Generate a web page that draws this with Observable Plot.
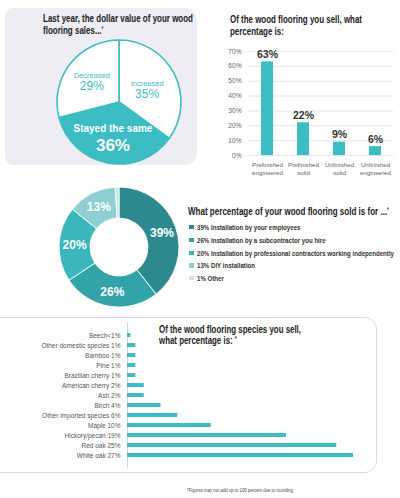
<!DOCTYPE html>
<html><head><meta charset="utf-8">
<script src="https://cdn.jsdelivr.net/npm/d3@7"></script>
<script src="https://cdn.jsdelivr.net/npm/@observablehq/plot@0.6"></script>
<style>
body{margin:0;background:#fff;}
#root{position:relative;width:400px;height:498px;overflow:hidden;font-family:"Liberation Sans",Arial,sans-serif;}
</style></head><body><div id="root"></div>
<script>
// ---------- DATA ----------
const salesLabels = ["Increased", "Stayed the same", "Decreased"];
const salesValues = [35, 36, 29];

const typeLabels = ["Prefinished\nengineered", "Prefinished\nsolid", "Unfinished\nsolid", "Unfinished\nengineered"];
const typeValues = [63, 22, 9, 6];
const typeTicks = [0, 10, 20, 30, 40, 50, 60, 70];

const installLabels = ["Installation by your employees", "Installation by a subcontractor you hire", "Installation by professional contractors working independently", "DIY installation", "Other"];
const installValues = [39, 26, 20, 13, 1];
const installColors = ["#2c8a8f", "#32a3a8", "#3ab6bc", "#8dcfd2", "#c4e6e8"];

const speciesLabels = ["Beech<1%", "Other domestic species 1%", "Bamboo 1%", "Pine 1%", "Brazilian cherry 1%", "American cherry 2%", "Ash 2%", "Birch 4%", "Other imported species 6%", "Maple 10%", "Hickory/pecan 19%", "Red oak 25%", "White oak 27%"];
const speciesValues = [0.4, 1, 1, 1, 1, 2, 2, 4, 6, 10, 19, 25, 27];

// ---------- STYLE ----------
const TEAL = "#3cbcc3";
const NARROW = '"Liberation Sans Narrow","Liberation Sans",Arial,sans-serif';
const SANS = '"Liberation Sans",Arial,sans-serif';
const root = document.getElementById("root");

function place(el, left, top) {
  el.style.position = "absolute"; el.style.left = left + "px"; el.style.top = top + "px";
  root.appendChild(el); return el;
}
function box(left, top, w, h, css) {
  const d = document.createElement("div");
  Object.assign(d.style, {width: w + "px", height: h + "px", boxSizing: "border-box"}, css);
  return place(d, left, top);
}
function textBlock(html, {left, top, size, lh, width, scale, weight = "bold", family = NARROW, color = "#222", sy = 1}) {
  const d = document.createElement("div");
  d.innerHTML = html;
  Object.assign(d.style, {fontSize: size + "px", lineHeight: lh + "px", fontFamily: family, fontWeight: weight, color, whiteSpace: "nowrap", transformOrigin: "0 0"});
  place(d, left, top);
  const w = d.getBoundingClientRect().width;
  const s = scale ?? (width ? width / w : 1);
  d.style.transform = `scale(${s}, ${sy})`;
  return s;
}
const star = '<span style="font-size:60%;position:relative;top:-0.45em">*</span>';

// ---------- PANELS ----------
box(5, 8, 192, 157, {background: "#eeedf4", borderRadius: "8px 12px 12px 8px"});
box(-20, 317, 397, 156, {border: "1px solid #d9d8ea", borderRadius: "12px"});

// ---------- PIE (sales) ----------
const R1 = 62;
const salesData = d3.pie().sort(null)(salesValues).map((a, i) => ({
  label: salesLabels[i], value: salesValues[i], start: a.startAngle, end: a.endAngle, mid: (a.startAngle + a.endAngle) / 2
}));
const salesLabelR = [31, 35, 35];
salesData.forEach((d, i) => { d.lx = salesLabelR[i] * Math.sin(d.mid); d.ly = salesLabelR[i] * Math.cos(d.mid); });
const smallSales = salesData.filter(d => d.label !== "Stayed the same");
const bigSales = salesData.filter(d => d.label === "Stayed the same");

const pie1 = Plot.plot({
  width: 140, height: 140, margin: 0,
  x: {domain: [-70, 70], axis: null}, y: {domain: [-70, 70], axis: null},
  style: {background: "transparent", overflow: "visible"},
  marks: [
    (index, scales) => {
      const cx = scales.x(0), cy = scales.y(0), k = scales.x(1) - scales.x(0);
      const arc = d3.arc().innerRadius(0).outerRadius(R1 * k).startAngle(d => d.start).endAngle(d => d.end);
      const g = d3.create("svg:g").attr("transform", `translate(${cx},${cy})`);
      g.selectAll("path").data(salesData).join("path").attr("d", arc)
        .attr("fill", d => d.label === "Stayed the same" ? TEAL : "#fff")
        .attr("stroke", TEAL).attr("stroke-width", 1.6).attr("stroke-linejoin", "round");
      return g.node();
    },
    Plot.text(smallSales, {x: "lx", y: "ly", text: "label", dy: -5.3, fontSize: 7.5, fill: TEAL, fontFamily: NARROW}),
    Plot.text(smallSales, {x: "lx", y: "ly", text: d => d.value + "%", dy: 5.5, fontSize: 12, fill: TEAL, fontFamily: NARROW}),
    Plot.text(bigSales, {x: "lx", y: "ly", text: "label", dy: -8, fontSize: 10, fill: "#fff", fontWeight: "bold", fontFamily: NARROW}),
    Plot.text(bigSales, {x: "lx", y: "ly", text: d => d.value + "%", dy: 8.5, fontSize: 17, fill: "#fff", fontWeight: "bold", fontFamily: NARROW})
  ]
});
place(pie1, 119 - 70, 102 - 70);

// ---------- BAR (type) ----------
const typeData = typeLabels.map((k, i) => ({k, v: typeValues[i]}));
const bar1 = Plot.plot({
  width: 200, height: 185, marginLeft: 48, marginRight: 7, marginTop: 51, marginBottom: 30,
  style: {background: "transparent", overflow: "visible", fontFamily: SANS},
  x: {domain: typeLabels, paddingInner: 0.67, paddingOuter: 0.335, axis: null},
  y: {domain: [0, 70], axis: null},
  marks: [
    Plot.gridY(typeTicks, {stroke: "#e3e3ea", strokeOpacity: 1}),
    Plot.barY(typeData, {x: "k", y: "v", fill: TEAL}),
    Plot.text(typeData, {x: "k", y: "v", text: d => d.v + "%", dy: -4, lineAnchor: "bottom", fontWeight: "bold", fontSize: 10.5, fill: "#333"}),
    Plot.axisY(typeTicks, {tickSize: 0, tickPadding: 7, tickFormat: d => d + "%", fontSize: 6.6, color: "#666", label: null}),
    Plot.axisX({tickSize: 0, tickPadding: 5, fontSize: 6.2, color: "#666", lineHeight: 1.4, label: null})
  ]
});
place(bar1, 200, 0);

// ---------- DONUT (install) ----------
const R2 = 60, R2in = 29, R2lab = 45;
const installData = d3.pie().sort(null)(installValues).map((a, i) => ({
  label: installLabels[i], value: installValues[i], color: installColors[i],
  start: a.startAngle, end: a.endAngle, mid: (a.startAngle + a.endAngle) / 2
}));
installData.forEach(d => { d.lx = R2lab * Math.sin(d.mid); d.ly = R2lab * Math.cos(d.mid); });
const donut = Plot.plot({
  width: 130, height: 130, margin: 0,
  x: {domain: [-65, 65], axis: null}, y: {domain: [-65, 65], axis: null},
  style: {background: "transparent", overflow: "visible"},
  marks: [
    (index, scales) => {
      const cx = scales.x(0), cy = scales.y(0), k = scales.x(1) - scales.x(0);
      const arc = d3.arc().innerRadius(R2in * k).outerRadius(R2 * k).startAngle(d => d.start).endAngle(d => d.end);
      const g = d3.create("svg:g").attr("transform", `translate(${cx},${cy})`);
      g.selectAll("path").data(installData).join("path").attr("d", arc)
        .attr("fill", d => d.color).attr("stroke", "#fff").attr("stroke-width", 0.9);
      return g.node();
    },
    Plot.text(installData.filter(d => d.value >= 5), {x: "lx", y: "ly", text: d => d.value + "%", fontSize: 12, fill: "#fff", fontWeight: "bold", fontFamily: NARROW})
  ]
});
place(donut, 118.5 - 65, 247 - 65);

// legend
textBlock("What percentage of your wood flooring sold is for ..." + star, {left: 188, top: 211 - 6, size: 11.5, lh: 12, width: 201});
const rowY = [227, 240, 253, 265.5, 278];
let rowScale = null;
{
  const order = [2, 0, 1, 3, 4];
  for (const i of order) {
    const s = textBlock(`${installValues[i]}% ${installLabels[i]}`, {left: 197, top: rowY[i] - 4.5, size: 7.6, lh: 9, width: i === 2 ? 197 : undefined, scale: i === 2 ? undefined : rowScale, color: "#333"});
    if (i === 2) rowScale = s;
    box(189, rowY[i] - 2.3, 4.6, 4.6, {background: installColors[i]});
  }
}

// ---------- TITLES ----------
textBlock("Last year, the dollar value of your wood<br>flooring sales..." + star, {left: 43, top: 13.4, size: 11.5, lh: 11.7, width: 150});
textBlock("Of the wood flooring you sell, what<br>percentage is:", {left: 230, top: 14.2, size: 11.5, lh: 11.7, width: 132});
textBlock("Of the wood flooring species you sell,<br>what percentage is: " + star, {left: 159, top: 324, size: 10.8, lh: 10.8, width: 142});

// ---------- HORIZONTAL BAR (species) ----------
const speciesData = speciesLabels.map((k, i) => ({k, v: speciesValues[i]}));
const bar2 = Plot.plot({
  width: 380, height: 160, marginLeft: 127, marginRight: 27, marginTop: 12.5, marginBottom: 2.4,
  style: {background: "transparent", overflow: "visible", fontFamily: SANS},
  x: {domain: [0, 27], axis: null},
  y: {domain: speciesLabels, padding: 0.6, axis: null},
  marks: [
    Plot.ruleX([0], {stroke: "#d4d4dc"}),
    Plot.barX(speciesData, {y: "k", x: "v", fill: TEAL}),
    Plot.axisY({tickSize: 0, tickPadding: 7, fontSize: 6.5, color: "#555", label: null})
  ]
});
place(bar2, 0, 310);

// footnote
textBlock("*Figures may not add up to 100 percent due to rounding", {left: 187, top: 490 - 2.5, size: 9, lh: 10, width: 106, sy: 0.5, weight: "normal", family: SANS, color: "#444"});
</script></body></html>
